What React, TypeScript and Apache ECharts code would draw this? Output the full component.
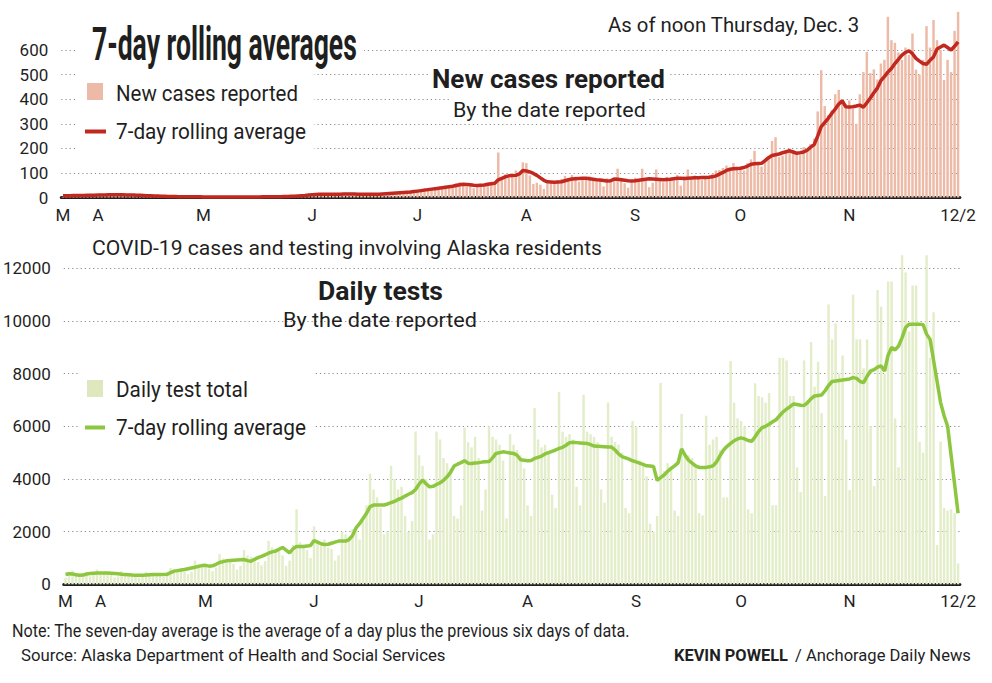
import React, { useEffect, useRef } from "react";
import * as echarts from "echarts";

// ---------- DATA ----------
const START_DATE = "2020-03-22";
const TICK_DATES = ["2020-03-22", "2020-04-01", "2020-05-01", "2020-06-01", "2020-07-01", "2020-08-01", "2020-09-01", "2020-10-01", "2020-11-01", "2020-12-02"];
const TICK_LABELS = ["M", "A", "M", "J", "J", "A", "S", "O", "N", "12/2"];

const newCases = [
  3, 8, 6, 11, 10, 6, 12, 8, 9, 11,
  14, 10, 14, 9, 14, 9, 15, 7, 9, 11,
  12, 7, 5, 8, 4, 7, 9, 4, 5, 6,
  2, 4, 3, 2, 5, 2, 1, 4, 3, 1,
  2, 1, 0, 3, 3, 1, 2, 1, 2, 0,
  4, 3, 1, 2, 1, 3, 2, 4, 5, 3,
  4, 6, 2, 3, 5, 8, 6, 4, 9, 12, 10,
  14, 13, 11, 16, 9, 12, 18, 15, 13, 11,
  12, 16, 14, 10, 13, 17, 12, 15, 9, 14,
  18, 12, 17, 22, 15, 20, 26, 22, 28, 30,
  25, 32, 38, 30, 35, 42, 36, 40, 48, 45,
  52, 58, 62, 48, 44, 52, 38, 55, 50, 46,
  60, 58, 62, 183, 72, 95, 80, 100, 110, 95, 143,
  140, 90, 55, 60, 52, 35, 58, 65, 60, 70,
  75, 88, 70, 92, 85, 65, 72, 80, 86, 68,
  66, 70, 45, 78, 64, 72, 117, 70, 58, 40, 62,
  80, 70, 117, 74, 42, 60, 114, 68, 62, 84,
  80, 70, 92, 48, 85, 114, 80, 90, 78, 72,
  88, 80, 96, 110, 112, 120, 130, 118, 140, 122,
  125, 110, 140, 155, 190, 132, 126, 148, 160, 230,
  245, 165, 170, 185, 200, 192, 180, 172, 205, 190,
  218, 240, 350, 518, 372, 335, 355, 420, 438, 400, 380,
  395, 360, 300, 420, 510, 592, 506, 521, 480, 545,
  560, 735, 640, 629, 590, 560, 610, 580, 667, 520,
  500, 560, 697, 610, 722, 640, 600, 478, 560, 510,
  678, 755,
];

const casesAvg = [
  7, 7, 7, 8, 8, 8, 8, 9, 9, 9,
  10, 10, 10, 11, 11, 11, 11, 11, 10, 10,
  10, 9, 9, 8, 7, 7, 6, 6, 5, 5,
  4, 4, 4, 3, 3, 3, 3, 3, 3, 3,
  2, 2, 2, 2, 2, 2, 2, 2, 2, 2,
  2, 2, 2, 2, 2, 2, 2, 3, 3, 3,
  3, 3, 3, 4, 4, 5, 5, 6, 7, 8, 10,
  11, 12, 13, 13, 13, 13, 13, 13, 13, 14,
  14, 14, 14, 13, 13, 13, 13, 13, 13, 13,
  14, 15, 16, 17, 18, 19, 20, 21, 22, 24,
  26, 28, 30, 32, 34, 36, 38, 40, 42, 44,
  46, 49, 52, 54, 53, 52, 50, 49, 50, 51,
  54, 56, 58, 72, 78, 84, 88, 89, 90, 96, 110,
  108, 104, 98, 90, 80, 70, 64, 63, 62, 63,
  64, 68, 72, 75, 76, 77, 78, 78, 76, 74,
  72, 71, 69, 67, 68, 75, 74, 72, 70, 68, 67,
  68, 70, 72, 74, 76, 75, 74, 73, 72, 73,
  74, 76, 78, 78, 77, 78, 79, 80, 80, 81,
  81, 82, 84, 88, 95, 102, 110, 115, 117, 118,
  119, 122, 128, 135, 137, 138, 139, 150, 162, 171,
  174, 177, 182, 186, 190, 185, 180, 182, 185, 192,
  205, 215, 250, 288, 305, 322, 342, 360, 380, 393, 369,
  368, 369, 372, 376, 367, 385, 405, 426, 445, 475,
  492, 510, 525, 545, 562, 579, 590, 597, 585, 566,
  555, 545, 542, 558, 572, 604, 612, 620, 610, 600,
  615, 633,
];

const dailyTests = [
  250, 310, 520, 430, 410, 400, 340,
  300, 350, 560, 470, 450, 460, 380,
  260, 300, 500, 430, 420, 400, 330,
  250, 290, 470, 410, 400, 390, 320,
  280, 380, 620, 560, 540, 520, 470,
  380, 480, 900, 760, 720, 700, 600,
  500, 640, 1150, 980, 950, 900, 770,
  560, 700, 1300, 1100, 1050, 1000, 850,
  720, 880, 1650, 1400, 1350, 1300, 1100,
  700, 900, 1500, 2850, 1600, 1500, 1300,
  1000, 2200, 1650, 1500, 1700, 1400, 1350,
  900, 1100, 2000, 1900, 1800, 2100, 2000,
  1700, 2400, 3000, 4200, 3600, 3300, 2900,
  1900, 2000, 4500, 4000, 3600, 3700, 2600,
  2000, 2400, 5800, 4900, 4500, 4000, 1700,
  1900, 5800, 5500, 4800, 4600, 4400, 2600,
  2500, 3000, 5950, 5400, 5200, 5600, 4800,
  2800, 3600, 6000, 5600, 5500, 5300, 4700,
  2500, 5700, 5300, 5100, 4900, 4400, 3000,
  2600, 6700, 5500, 5200, 5300, 5000, 3400,
  2900, 7300, 5800, 5600, 5700, 5500, 3700,
  3000, 7200, 5800, 5700, 5600, 5400, 3600,
  3100, 6900, 5600, 5400, 5300, 5000, 2900,
  2700, 6200, 6000, 4700, 4600, 4100, 2300,
  2000, 2600, 7650, 4300, 4600, 4400, 2800,
  2600, 6470, 5000, 4900, 4800, 4500, 2700,
  2620, 6400, 5300, 5500, 5600, 5100, 3300,
  3300, 8480, 6900, 6300, 6200, 6000, 2850,
  2700, 7630, 7150, 7100, 6900, 7260, 3000,
  3000, 8600, 8600, 8500, 7150, 7150, 4440,
  3500, 8500, 7000, 9200, 7500, 8450, 6500,
  3350, 10630, 9300, 9900, 8000, 8690, 5500,
  3580, 11000, 9300, 9300, 8200, 9300, 6000,
  3730, 11180, 10540, 8000, 11500, 11500, 6300,
  4440, 12500, 11840, 9600, 11350, 11350, 5400,
  5000, 12500, 8600, 10330, 1490, 5420, 2900,
  2800, 2850, 2700, 790,
];

const testsAvg = [
  370, 400, 390, 360, 340, 350, 390, 410, 420, 425,
  430, 430, 430, 420, 410, 400, 380, 370, 360, 350,
  345, 340, 345, 355, 365, 370, 370, 370, 370, 380,
  440, 500, 520, 540, 560, 590, 620, 650, 680, 710,
  720, 690, 700, 760, 830, 860, 890, 900, 910, 920,
  930, 940, 900, 875, 950, 1010, 1060, 1120, 1180, 1230,
  1260, 1330, 1400, 1300, 1190, 1350, 1440, 1440, 1440, 1450, 1470,
  1660, 1600, 1540, 1510, 1520, 1560, 1600, 1640, 1640, 1640,
  1700, 1850, 2140, 2300, 2500, 2700, 2950, 3010, 3010, 3010,
  3010, 3050, 3100, 3150, 3220, 3270, 3350, 3420, 3480, 3600,
  3800, 3960, 3820, 3700, 3720, 3790, 3850, 3950, 4080, 4250,
  4490, 4560, 4620, 4690, 4600, 4590, 4610, 4620, 4640, 4650,
  4660, 4800, 4970, 5000, 5030, 5010, 4990, 4970, 4900, 4730, 4710,
  4690, 4700, 4780, 4820, 4870, 4950, 5000, 5050, 5100, 5160,
  5200, 5280, 5380, 5390, 5380, 5370, 5360, 5350, 5300, 5250,
  5240, 5230, 5220, 5210, 5210, 5100, 4950, 4850, 4800, 4750, 4690,
  4650, 4600, 4550, 4500, 4490, 4470, 3950, 4050, 4150, 4290,
  4400, 4500, 4610, 5140, 4900, 4710, 4600, 4500, 4440, 4440,
  4440, 4460, 4500, 4650, 4890, 5100, 5240, 5350, 5450, 5520,
  5560, 5520, 5460, 5430, 5600, 5800, 5950, 6000, 6080, 6170,
  6250, 6400, 6550, 6650, 6750, 6850, 6830, 6800, 6790, 6900,
  7050, 7150, 7170, 7190, 7350, 7550, 7700, 7720, 7740, 7760, 7780,
  7800, 7850, 7820, 7700, 7660, 7900, 8100, 8150, 8250, 8290,
  8100, 8700, 8990, 8900, 9050, 9370, 9750, 9880, 9880, 9880,
  9880, 9860, 9500, 9300, 8500, 7700, 6900, 6400, 6000, 4900,
  3800, 2700,
];

// ---------- STYLE ----------
const CASE_BAR = "#ecbaa6";
const CASE_LINE = "#c1281f";
const TEST_BAR = "#e3edca";
const TEST_LINE = "#8dc63f";
const INK = "#1f1f1f";
const NARROW = "'Liberation Sans Narrow', Roboto, sans-serif";
const SANS = "Roboto, 'Liberation Sans', sans-serif";

function buildDates(n: number): string[] {
  const out: string[] = [];
  const [y, m, d] = START_DATE.split("-").map(Number);
  const t0 = Date.UTC(y, m - 1, d);
  for (let i = 0; i < n; i++) out.push(new Date(t0 + i * 86400000).toISOString().slice(0, 10));
  return out;
}

function fitScale(text: string, size: number, weight: string, family: string, target: number) {
  const ctx = document.createElement("canvas").getContext("2d");
  if (!ctx) return 1;
  ctx.font = `${weight} ${size}px ${family}`;
  const w = ctx.measureText(text).width;
  return w > 0 ? target / w : 1;
}

type T = { text: string; x: number; y: number; w: number; size: number; weight?: string; family?: string };

export default function App() {
  const ref = useRef<HTMLDivElement>(null);

  useEffect(() => {
    if (!ref.current) return;
    const chart = echarts.init(ref.current, undefined, { renderer: "svg" });
    const dates = buildDates(newCases.length);
    const tickMap: Record<string, string> = {};
    TICK_DATES.forEach((d, i) => (tickMap[d] = TICK_LABELS[i]));

    const texts: T[] = [
      { text: "7-day rolling averages", x: 92, y: 44, w: 265, size: 46, weight: "bold" },
      { text: "As of noon Thursday, Dec. 3", x: 608, y: 25, w: 252, size: 21 },
      { text: "New cases reported", x: 432, y: 79, w: 233, size: 26, weight: "bold" },
      { text: "By the date reported", x: 453, y: 110, w: 193, size: 21 },
      { text: "New cases reported", x: 116, y: 93, w: 182, size: 22 },
      { text: "7-day rolling average", x: 116, y: 131, w: 190, size: 22 },
      { text: "COVID-19 cases and testing involving Alaska residents", x: 92, y: 248, w: 510, size: 21 },
      { text: "Daily tests", x: 318, y: 291, w: 125, size: 26, weight: "bold" },
      { text: "By the date reported", x: 283, y: 320, w: 194, size: 21 },
      { text: "Daily test total", x: 116, y: 389, w: 132, size: 22 },
      { text: "7-day rolling average", x: 116, y: 427, w: 190, size: 22 },
      { text: "Note: The seven-day average is the average of a day plus the previous six days of data.", x: 12, y: 631, w: 618, size: 18 },
      { text: "Source: Alaska Department of Health and Social Services", x: 21, y: 656, w: 425, size: 16, family: SANS },
      { text: "KEVIN POWELL", x: 674, y: 656, w: 114, size: 16, weight: "bold", family: SANS },
      { text: "/ Anchorage Daily News", x: 795, y: 656, w: 176, size: 16, family: SANS },
    ];

    const whiteRects = [
      [76, 36, 288, 22],
      [76, 66, 238, 88],
      [428, 66, 240, 24],
      [449, 98, 199, 22],
      [78, 368, 236, 72],
    ];

    const graphic: any[] = [];
    whiteRects.forEach(([x, y, w, h]) =>
      graphic.push({ type: "rect", z: 50, shape: { x, y, width: w, height: h }, style: { fill: "#ffffff" } })
    );
    graphic.push({ type: "rect", z: 60, shape: { x: 87, y: 83, width: 16, height: 17 }, style: { fill: CASE_BAR } });
    graphic.push({ type: "line", z: 60, shape: { x1: 85, y1: 131.5, x2: 106, y2: 131.5 }, style: { stroke: CASE_LINE, lineWidth: 4 } });
    graphic.push({ type: "rect", z: 60, shape: { x: 87, y: 380, width: 16, height: 17 }, style: { fill: "#dde8bf" } });
    graphic.push({ type: "line", z: 60, shape: { x1: 85, y1: 427.5, x2: 105, y2: 427.5 }, style: { stroke: TEST_LINE, lineWidth: 4 } });
    texts.forEach((t) => {
      const weight = t.weight || "normal";
      const family = t.family || NARROW;
      const sx = fitScale(t.text, t.size, weight, family, t.w);
      graphic.push({
        type: "text",
        z: 70,
        x: t.x,
        y: t.y,
        scaleX: sx,
        style: {
          text: t.text,
          fontSize: t.size,
          fontWeight: weight,
          fontFamily: family,
          fill: INK,
          textAlign: "left",
          textVerticalAlign: "middle",
          verticalAlign: "middle",
        },
      });
    });

    const gridLeft = 61.25;
    const gridWidth = 898.6;
    const xAxisBase = (gi: number, margin: number) => ({
      type: "category",
      gridIndex: gi,
      data: dates,
      boundaryGap: true,
      axisLine: { show: true, lineStyle: { color: INK, width: 3 } },
      axisTick: { show: false },
      splitLine: { show: false },
      axisLabel: {
        interval: (i: number, v: string) => tickMap[v] !== undefined,
        formatter: (v: string) => tickMap[v] || "",
        fontSize: 17,
        fontFamily: SANS,
        color: INK,
        margin,
        alignMinLabel: "center",
        alignMaxLabel: "center",
      },
    });
    const yAxisBase = (gi: number, max: number, interval: number) => ({
      type: "value",
      gridIndex: gi,
      min: 0,
      max,
      interval,
      axisLine: { show: false },
      axisTick: { show: false },
      axisLabel: { fontSize: 17, fontFamily: SANS, color: INK, margin: 13, formatter: (v: number) => String(v) },
      splitLine: { show: true, lineStyle: { color: "#8c8c8c", width: 1, type: [1.2, 3] } },
    });

    chart.setOption({
      animation: false,
      backgroundColor: "#ffffff",
      grid: [
        { left: gridLeft, width: gridWidth, top: 50, height: 147.5 },
        { left: gridLeft, width: gridWidth, top: 268.3, height: 316 },
      ],
      xAxis: [xAxisBase(0, 9), xAxisBase(1, 8)],
      yAxis: [yAxisBase(0, 600, 100), yAxisBase(1, 12000, 2000)],
      series: [
        {
          type: "bar",
          name: "New cases reported",
          xAxisIndex: 0,
          yAxisIndex: 0,
          data: newCases,
          barCategoryGap: "30%",
          clip: false,
          itemStyle: { color: CASE_BAR },
          z: 2,
        },
        {
          type: "line",
          name: "7-day rolling average",
          xAxisIndex: 0,
          yAxisIndex: 0,
          data: casesAvg,
          symbol: "none",
          clip: false,
          lineStyle: { color: CASE_LINE, width: 3.5 },
          z: 3,
        },
        {
          type: "bar",
          name: "Daily test total",
          xAxisIndex: 1,
          yAxisIndex: 1,
          data: dailyTests,
          barCategoryGap: "30%",
          clip: false,
          itemStyle: { color: TEST_BAR },
          z: 2,
        },
        {
          type: "line",
          name: "Tests 7-day rolling average",
          xAxisIndex: 1,
          yAxisIndex: 1,
          data: testsAvg,
          symbol: "none",
          clip: false,
          lineStyle: { color: TEST_LINE, width: 3.5 },
          z: 3,
        },
      ],
      graphic,
    });
    return () => chart.dispose();
  }, []);

  return <div ref={ref} style={{ position: "fixed", left: 0, top: 0, width: 992, height: 683, background: "#fff" }} />;
}
